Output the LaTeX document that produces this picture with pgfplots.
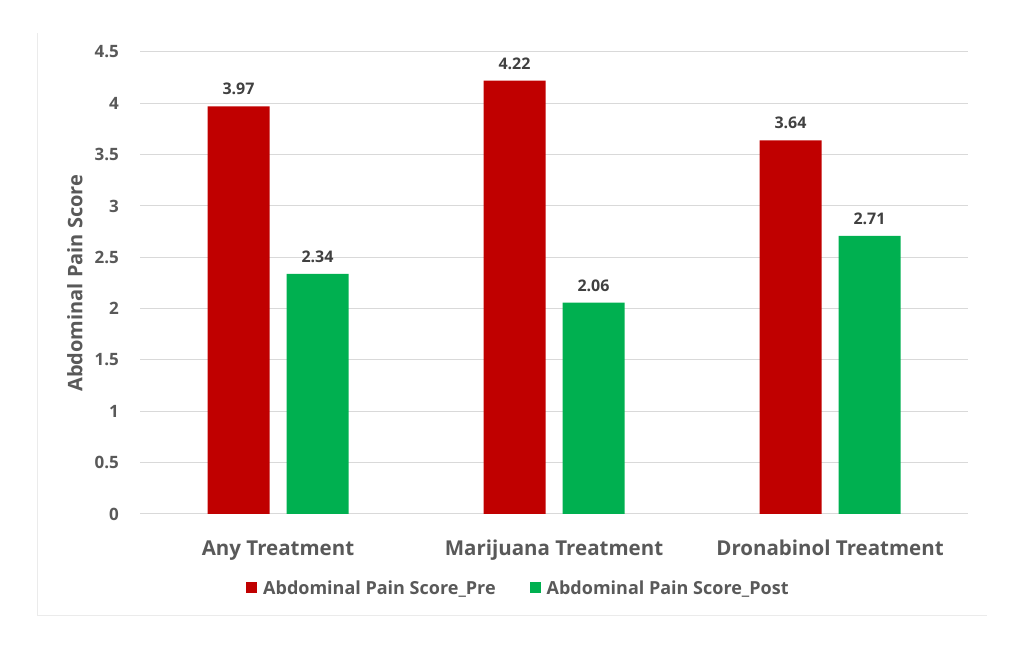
\documentclass[border=0pt]{standalone}
\usepackage{pgfplots}
\pgfplotsset{compat=1.18}
\usepackage{fontspec}
\setmainfont{Open Sans}
\newcommand\semib{\bfseries}

\definecolor{prered}{HTML}{C00000}
\definecolor{postgreen}{HTML}{00B050}
\definecolor{txtgray}{HTML}{595959}
\definecolor{lblgray}{HTML}{404040}
\definecolor{gridgray}{HTML}{D9D9D9}

\begin{document}
\begin{tikzpicture}[x=1pt,y=1pt]
  % page size = reference size, 1pt per pixel
  \path[use as bounding box] (0,0) rectangle (1027,650);
  \draw[black!8, line width=1pt] (37,617) -- (37,34) (37,34) -- (987,34);
  \begin{axis}[
      at={(140pt,136pt)}, anchor=south west,
      scale only axis,
      width=828pt, height=462pt,
      ybar=17pt,
      bar width=62pt,
      xmin=-0.5, xmax=2.5,
      ymin=0, ymax=4.5,
      xtick={0,1,2},
      xticklabels={Any Treatment,Marijuana Treatment,Dronabinol Treatment},
      ytick={0,0.5,...,4.5},
      ymajorgrids,
      grid style={gridgray, line width=1pt},
      axis line style={draw=none},
      tick style={draw=none},
      /pgf/number format/assume math mode=true,
      yticklabel style={font=\semib\fontsize{17}{17}\selectfont, text=txtgray,
        anchor=east, inner sep=0pt, xshift=-21pt},
      xticklabel style={font=\semib\fontsize{20.5}{20.5}\selectfont, text=txtgray,
        anchor=base, yshift=-37pt},
      ylabel={Abdominal Pain Score},
      ylabel style={font=\semib\fontsize{20}{20}\selectfont, text=txtgray,
        at={(axis description cs:-0.0785,0.5)}, anchor=center},
      nodes near coords,
      nodes near coords style={font=\semib\fontsize{16}{16}\selectfont,
        text=lblgray, anchor=south, inner sep=0pt, yshift=11pt},
      legend columns=2,
      legend style={at={(0.457,-0.16)}, anchor=center, draw=none,
        font=\semib\fontsize{18}{18}\selectfont, text=txtgray,
        /tikz/every even column/.append style={column sep=32pt}},
    ]
    \addplot[fill=prered, draw=none,
      legend image code/.code={\fill[prered] (0pt,-5.5pt) rectangle (11pt,5.5pt);
        \path (15pt,0pt);}]
      coordinates {(0,3.97) (1,4.22) (2,3.64)};
    \addplot[fill=postgreen, draw=none,
      legend image code/.code={\fill[postgreen] (0pt,-5.5pt) rectangle (11pt,5.5pt);
        \path (15pt,0pt);}]
      coordinates {(0,2.34) (1,2.06) (2,2.71)};
    \legend{Abdominal Pain Score\_Pre, Abdominal Pain Score\_Post}
  \end{axis}
\end{tikzpicture}
\end{document}
